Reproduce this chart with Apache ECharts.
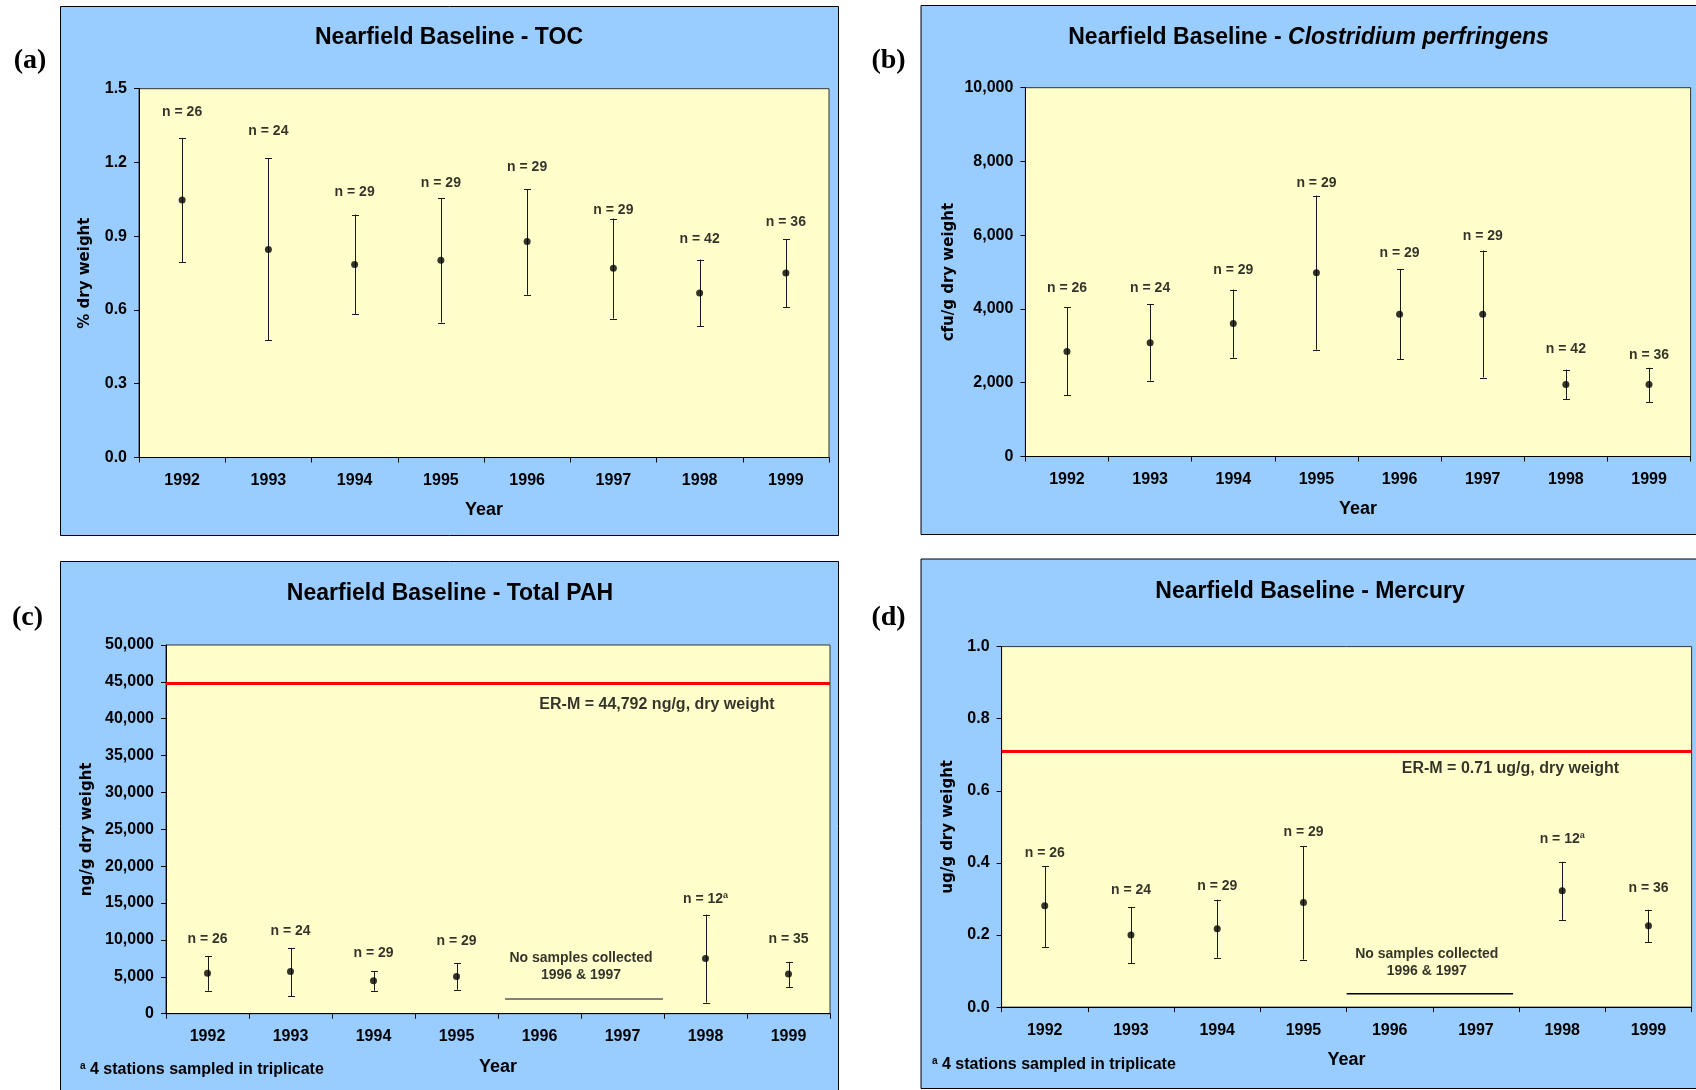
<!DOCTYPE html>
<html>
<head>
<meta charset="utf-8">
<script src="https://cdn.jsdelivr.net/npm/echarts@6/dist/echarts.min.js"></script>
<style>
  html, body { margin: 0; padding: 0; background: #ffffff; }
  #chart { width: 1696px; height: 1090px; }
</style>
</head>
<body>
<div id="chart"></div>
<script>
// ---- Data -------------------------------------------------------------
const years = ['1992', '1993', '1994', '1995', '1996', '1997', '1998', '1999'];

// (a) TOC, % dry weight
const tocMean  = [1.047, 0.846, 0.785, 0.802, 0.879, 0.770, 0.669, 0.750];
const tocUpper = [1.300, 1.217, 0.988, 1.054, 1.092, 0.972, 0.805, 0.887];
const tocLower = [0.795, 0.477, 0.583, 0.549, 0.662, 0.565, 0.533, 0.611];
const tocN     = [26, 24, 29, 29, 29, 29, 42, 36];
const tocNAt   = [1.405, 1.329, 1.081, 1.114, 1.182, 1.008, 0.890, 0.959];
const tocTicks = [0, 0.3, 0.6, 0.9, 1.2, 1.5];

// (b) Clostridium perfringens, cfu/g dry weight
const cloMean  = [2849, 3085, 3604, 4981, 3858, 3858, 1953, 1953];
const cloUpper = [4047, 4123, 4528, 7075, 5085, 5585, 2358, 2406];
const cloLower = [1660, 2057, 2679, 2896, 2642, 2142, 1547, 1472];
const cloN     = [26, 24, 29, 29, 29, 29, 42, 36];
const cloNAt   = [4566, 4566, 5066, 7425, 5519, 5981, 2915, 2755];
const cloTicks = [0, 2000, 4000, 6000, 8000, 10000];

// (c) Total PAH, ng/g dry weight (no samples 1996 & 1997)
const pahMean  = [5472, 5708, 4481, 5047, null, null, 7500, 5377];
const pahUpper = [7830, 8915, 5802, 6887, null, null, 13443, 7028];
const pahLower = [3113, 2406, 3113, 3255, null, null, 1509, 3632];
const pahN     = [26, 24, 29, 29, null, null, 12, 35];
const pahNote  = [false, false, false, false, false, false, true, false];
const pahNAt   = [10094, 11226, 8255, 9858, null, null, 15566, 10094];
const pahErm   = 44792;
const pahErmText = 'ER-M = 44,792 ng/g, dry weight';
const pahErmTextAt = [5.415, 41981];
const pahGapSpan = [3.585, 5.487];
const pahGapLevel = 1981;
const pahGapTextAt = [4.5, 6415];
const pahTicks = [0, 5000, 10000, 15000, 20000, 25000, 30000, 35000, 40000, 45000, 50000];

// (d) Mercury, ug/g dry weight (no samples 1996 & 1997)
const hgMean  = [0.281, 0.200, 0.217, 0.290, null, null, 0.323, 0.226];
const hgUpper = [0.391, 0.278, 0.298, 0.447, null, null, 0.403, 0.270];
const hgLower = [0.167, 0.121, 0.137, 0.132, null, null, 0.242, 0.180];
const hgN     = [26, 24, 29, 29, null, null, 12, 36];
const hgNote  = [false, false, false, false, false, false, true, false];
const hgNAt   = [0.428, 0.324, 0.336, 0.486, null, null, 0.466, 0.330];
const hgErm   = 0.71;
const hgErmText = 'ER-M = 0.71 ug/g, dry weight';
const hgErmTextAt = [5.40, 0.661];
const hgGapSpan = [3.50, 5.43];
const hgGapLevel = 0.0367;
const hgGapTextAt = [4.43, 0.1235];
const hgTicks = [0, 0.2, 0.4, 0.6, 0.8, 1.0];

const gapText = 'No samples collected\n1996 & 1997';
const footText = '4 stations sampled in triplicate';

// ---- Styling ----------------------------------------------------------
const SANS = '"Liberation Sans", Arial, Helvetica, sans-serif';
const WIDE = '"DejaVu Sans", Verdana, sans-serif';
const SERIF = '"Liberation Serif", "Times New Roman", serif';
const PANEL_BLUE = '#99CCFF';
const PLOT_YELLOW = '#FFFFCC';

const commas = v => Math.round(v).toLocaleString('en-US');
const oneDec = v => v.toFixed(1);

const panels = [
  {
    letter: '(a)', letterAt: [30, 61],
    frame: [60.5, 6.5, 778, 529],
    grid: { left: 139, top: 88.7, width: 690, height: 368.8 },
    title: '{n|Nearfield Baseline - TOC}', titleAt: [449, 38],
    yName: '% dry weight', yNameGap: 46, yFmt: oneDec, ticks: tocTicks,
    mean: tocMean, upper: tocUpper, lower: tocLower, n: tocN, nAt: tocNAt, note: null
  },
  {
    letter: '(b)', letterAt: [888.5, 61],
    frame: [921, 5.5, 790, 529],
    grid: { left: 1025.4, top: 87.7, width: 665.2, height: 368.8 },
    title: '{n|Nearfield Baseline - }{i|Clostridium perfringens}', titleAt: [1308.5, 38],
    yName: 'cfu/g dry weight', yNameGap: 69, yFmt: commas, ticks: cloTicks,
    mean: cloMean, upper: cloUpper, lower: cloLower, n: cloN, nAt: cloNAt, note: null
  },
  {
    letter: '(c)', letterAt: [27.5, 618],
    frame: [60.5, 561.5, 778, 560],
    grid: { left: 166, top: 645, width: 664, height: 368.7 },
    title: '{n|Nearfield Baseline - Total PAH}', titleAt: [450, 594],
    yName: 'ng/g dry weight', yNameGap: 71, yFmt: commas, ticks: pahTicks,
    mean: pahMean, upper: pahUpper, lower: pahLower, n: pahN, nAt: pahNAt, note: pahNote,
    erm: pahErm, ermText: pahErmText, ermTextAt: pahErmTextAt,
    gapSpan: pahGapSpan, gapLevel: pahGapLevel, gapTextAt: pahGapTextAt, gapColor: '#808080', gapWidth: 2,
    footAt: [80, 1070]
  },
  {
    letter: '(d)', letterAt: [888.5, 618],
    frame: [921, 559, 790, 529.5],
    grid: { left: 1001.6, top: 646.6, width: 690, height: 360.5 },
    title: '{n|Nearfield Baseline - Mercury}', titleAt: [1310, 592],
    yName: 'ug/g dry weight', yNameGap: 46, yFmt: oneDec, ticks: hgTicks,
    mean: hgMean, upper: hgUpper, lower: hgLower, n: hgN, nAt: hgNAt, note: hgNote,
    erm: hgErm, ermText: hgErmText, ermTextAt: hgErmTextAt,
    gapSpan: hgGapSpan, gapLevel: hgGapLevel, gapTextAt: hgGapTextAt, gapColor: '#000000', gapWidth: 1.5,
    footAt: [932, 1065]
  }
];

// ---- Build options ----------------------------------------------------
const grids = [], xAxes = [], yAxes = [], series = [], graphics = [];

panels.forEach((p, g) => {
  // panel background and frame
  graphics.push({
    type: 'rect', z: -10, silent: true,
    shape: { x: p.frame[0], y: p.frame[1], width: p.frame[2], height: p.frame[3] },
    style: { fill: PANEL_BLUE, stroke: '#000000', lineWidth: 1 }
  });
  // panel letter
  graphics.push({
    type: 'text', z: 10, silent: true, x: p.letterAt[0], y: p.letterAt[1],
    style: { text: p.letter, font: 'bold 28px ' + SERIF, fill: '#000', align: 'center', verticalAlign: 'middle' }
  });
  // panel title
  graphics.push({
    type: 'text', z: 10, silent: true, x: p.titleAt[0], y: p.titleAt[1],
    style: {
      text: p.title, align: 'center', verticalAlign: 'middle', fill: '#000',
      rich: {
        n: { font: 'bold 23px ' + SANS, fill: '#000' },
        i: { font: 'italic bold 23px ' + SANS, fill: '#000' }
      }
    }
  });
  if (p.footAt) {
    graphics.push({
      type: 'text', z: 10, silent: true, x: p.footAt[0], y: p.footAt[1],
      style: {
        text: '{s|a}{t| ' + footText + '}', align: 'left', verticalAlign: 'middle',
        rich: {
          s: { font: 'bold 10px ' + SANS, fill: '#000', verticalAlign: 'top' },
          t: { font: 'bold 16px ' + SANS, fill: '#000', lineHeight: 18 }
        }
      }
    });
  }

  grids.push(Object.assign({
    show: true, backgroundColor: PLOT_YELLOW, borderColor: '#333333', borderWidth: 1
  }, p.grid));

  const tickMax = p.ticks[p.ticks.length - 1];
  const tickStep = p.ticks[1] - p.ticks[0];

  // visible category axis
  xAxes.push({
    type: 'category', gridIndex: g, data: years, boundaryGap: true,
    name: 'Year', nameLocation: 'middle', nameGap: 44,
    nameTextStyle: { fontFamily: SANS, fontWeight: 'bold', fontSize: 18, color: '#000' },
    axisLine: { show: true, onZero: false, lineStyle: { color: '#000', width: 1 } },
    axisTick: { show: true, alignWithLabel: false, length: 5, inside: false, lineStyle: { color: '#000' } },
    axisLabel: { margin: 15, fontFamily: SANS, fontWeight: 'bold', fontSize: 16, color: '#000', interval: 0 },
    splitLine: { show: false }
  });
  // hidden value axis spanning the same width, for annotations between categories
  xAxes.push({
    type: 'value', gridIndex: g, min: -0.5, max: 7.5, show: false,
    axisLine: { onZero: false },
    splitLine: { show: false }
  });

  yAxes.push({
    type: 'value', gridIndex: g, min: p.ticks[0], max: tickMax, interval: tickStep,
    name: p.yName, nameLocation: 'middle', nameGap: p.yNameGap, nameRotate: 90,
    nameTextStyle: { fontFamily: WIDE, fontWeight: 'bold', fontSize: 15, color: '#000' },
    axisLine: { show: true, onZero: false, lineStyle: { color: '#000', width: 1 } },
    axisTick: { show: true, length: 5, inside: false, lineStyle: { color: '#000' } },
    axisLabel: { margin: 12, fontFamily: SANS, fontWeight: 'bold', fontSize: 16, color: '#000', formatter: p.yFmt },
    splitLine: { show: false }
  });

  const catX = 2 * g, valX = 2 * g + 1;

  // error bars: whisker from lower to upper with short caps
  const barData = [];
  p.mean.forEach((m, i) => { if (m != null) barData.push([i, p.lower[i], p.upper[i]]); });
  series.push({
    type: 'custom', xAxisIndex: catX, yAxisIndex: g, silent: true, z: 3,
    data: barData,
    renderItem: (params, api) => {
      const i = api.value(0);
      const lo = api.coord([i, api.value(1)]);
      const hi = api.coord([i, api.value(2)]);
      const x = Math.round(lo[0]) + 0.5;
      const cap = 3.5;
      const ln = (x1, y1, x2, y2) => ({
        type: 'line', shape: { x1, y1, x2, y2 }, style: { stroke: '#1a1a1a', lineWidth: 1 }
      });
      return {
        type: 'group',
        children: [
          ln(x, hi[1], x, lo[1]),
          ln(x - cap, Math.round(hi[1]) + 0.5, x + cap, Math.round(hi[1]) + 0.5),
          ln(x - cap, Math.round(lo[1]) + 0.5, x + cap, Math.round(lo[1]) + 0.5)
        ]
      };
    }
  });

  // mean markers (with the ER-M reference line where applicable)
  const meanSeries = {
    type: 'scatter', xAxisIndex: catX, yAxisIndex: g, silent: true, z: 4,
    symbol: 'circle', symbolSize: 7,
    itemStyle: { color: '#000' },
    data: p.mean.map((m, i) => (m == null ? null : [i, m])).filter(d => d)
  };
  if (p.erm != null) {
    meanSeries.markLine = {
      silent: true, symbol: 'none', animation: false,
      lineStyle: { color: '#FF0000', width: 3, type: 'solid' },
      label: { show: false },
      data: [{ yAxis: p.erm }]
    };
  }
  series.push(meanSeries);

  // sample-size labels
  const nData = [];
  p.n.forEach((n, i) => { if (n != null) nData.push([i, p.nAt[i], n, p.note ? (p.note[i] ? 1 : 0) : 0]); });
  series.push({
    type: 'scatter', xAxisIndex: catX, yAxisIndex: g, silent: true, z: 5,
    symbolSize: 0, data: nData,
    label: {
      show: true, position: 'inside',
      formatter: d => '{b|n = ' + d.value[2] + '}' + (d.value[3] ? '{s|a}' : ''),
      rich: {
        b: { fontFamily: SANS, fontWeight: 'bold', fontSize: 14, color: '#000', lineHeight: 16 },
        s: { fontFamily: SANS, fontWeight: 'bold', fontSize: 9, color: '#000', verticalAlign: 'top' }
      }
    }
  });

  if (p.erm != null) {
    // ER-M caption
    series.push({
      type: 'scatter', xAxisIndex: valX, yAxisIndex: g, silent: true, z: 5,
      symbolSize: 0, data: [p.ermTextAt],
      label: {
        show: true, position: 'inside', formatter: p.ermText,
        fontFamily: SANS, fontWeight: 'bold', fontSize: 16, color: '#000'
      }
    });
    // no-sample bracket line
    series.push({
      type: 'line', xAxisIndex: valX, yAxisIndex: g, silent: true, z: 3,
      symbol: 'none', lineStyle: { color: p.gapColor, width: p.gapWidth },
      data: [[p.gapSpan[0], p.gapLevel], [p.gapSpan[1], p.gapLevel]]
    });
    // no-sample note
    series.push({
      type: 'scatter', xAxisIndex: valX, yAxisIndex: g, silent: true, z: 5,
      symbolSize: 0, data: [p.gapTextAt],
      label: {
        show: true, position: 'inside', formatter: gapText, align: 'center',
        fontFamily: SANS, fontWeight: 'bold', fontSize: 14, lineHeight: 17, color: '#000'
      }
    });
  }
});

const chart = echarts.init(document.getElementById('chart'), null, { renderer: 'canvas' });
chart.setOption({
  animation: false,
  backgroundColor: '#ffffff',
  grid: grids,
  xAxis: xAxes,
  yAxis: yAxes,
  series: series,
  graphic: graphics
});
</script>
</body>
</html>
